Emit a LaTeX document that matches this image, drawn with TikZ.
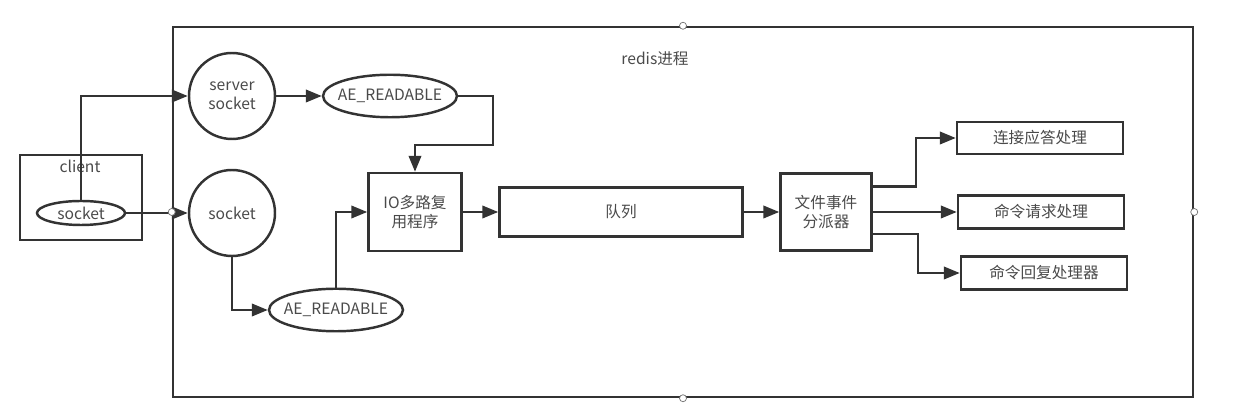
\documentclass[tikz,border=0pt]{standalone}
\usepackage{fontspec}
\setmainfont{Noto Sans CJK SC}
\usetikzlibrary{arrows.meta,shapes.geometric}

\definecolor{linegray}{HTML}{333333}
\definecolor{textgray}{HTML}{4A4A4A}

\tikzset{
  box/.style={draw=linegray, line width=1.4pt, text=textgray, align=center, inner sep=0pt,
    font=\fontsize{8.9}{11}\selectfont},
  roundbox/.style={box, circle, minimum size=1.72cm},
  ovalbox/.style={box, ellipse, inner xsep=-0.14cm, minimum width=2.68cm, minimum height=0.85cm},
  arr/.style={draw=linegray, line width=1.4pt, -{Triangle[length=9pt,width=7pt]}},
  handle/.style={circle, draw=linegray!70, fill=white, line width=0.4pt, minimum size=4pt, inner sep=0pt}
}

\begin{document}
\begin{tikzpicture}
    \useasboundingbox (0,0) rectangle (25.08,-8.18);

    % redis process
    \node[box, minimum width=20.4cm, minimum height=7.4cm] (redis) at (13.66,-4.24) {};
    \node[text=textgray, font=\fontsize{8.9}{11}\selectfont] (title) at (13.1,-1.18) {redis进程};

    % client
    \node[box, minimum width=2.44cm, minimum height=1.7cm] (client) at (1.62,-3.95) {};
    \node[text=textgray, font=\fontsize{8.9}{11}\selectfont] (clientlabel) at (1.6,-3.32) {client};
    \node[box, ellipse, inner ysep=-0.09cm, minimum width=1.76cm, minimum height=0.48cm] (csock) at (1.62,-4.26) {socket};

    % sockets and events
    \node[roundbox] (ssock) at (4.64,-1.92) {server\\socket};
    \node[roundbox] (sock) at (4.64,-4.26) {socket};
    \node[ovalbox] (ae1) at (7.8,-1.92) {AE\_READABLE};
    \node[ovalbox] (ae2) at (6.72,-6.2) {AE\_READABLE};
    \coordinate (ae1turn) at (9.86,-2.9);

    % multiplexer, queue, dispatcher
    \node[box, minimum width=1.86cm, minimum height=1.56cm] (io) at (8.3,-4.24) {IO多路复\\用程序};
    \node[box, minimum width=4.86cm, minimum height=0.98cm] (queue) at (12.42,-4.24) {队列};
    \node[box, minimum width=1.82cm, minimum height=1.54cm] (disp) at (16.52,-4.24) {文件事件\\分派器};

    % handlers
    \node[box, minimum width=3.32cm, minimum height=0.64cm] (h1) at (20.8,-2.76) {连接应答处理};
    \node[box, minimum width=3.32cm, minimum height=0.66cm] (h2) at (20.82,-4.24) {命令请求处理};
    \node[box, minimum width=3.32cm, minimum height=0.66cm] (h3) at (20.88,-5.46) {命令回复处理器};

    % connectors
    \draw[arr] (csock.north) |- (ssock.west);
    \draw[arr] (csock.east) -- (sock.west);
    \draw[arr] (ssock.east) -- (ae1.west);
    \draw[arr] (ae1.east) -| (ae1turn) -| (io.north);
    \draw[arr] (sock.south) |- (ae2.west);
    \draw[arr] (ae2.north) |- (io.west);
    \draw[arr] (io.east) -- (queue.west);
    \draw[arr] (queue.east) -- (disp.west);
    \draw[arr] ([yshift=0.51cm]disp.east) -- ++(0.86,0) |- (h1.west);
    \draw[arr] (disp.east) -- (h2.west);
    \draw[arr] ([yshift=-0.44cm]disp.east) -- ++(0.9,0) |- (h3.west);

    % selection handles
    \node[handle] (hn) at (redis.north) {};
    \node[handle] (he) at (redis.east) {};
    \node[handle] (hs) at (redis.south) {};
    \node[handle] (hw) at (redis.west) {};

\end{tikzpicture}
\end{document}
